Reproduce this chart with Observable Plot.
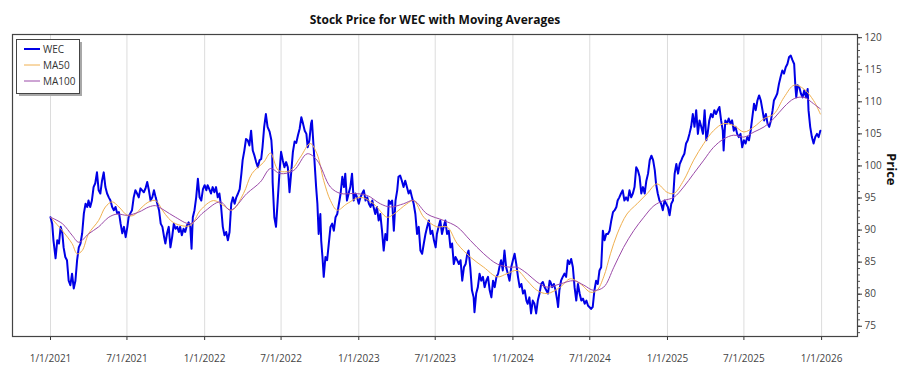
<!DOCTYPE html>
<html><head><meta charset="utf-8">
<script src="https://cdn.jsdelivr.net/npm/d3@7"></script>
<script src="https://cdn.jsdelivr.net/npm/@observablehq/plot@0.6"></script>
<style>body{margin:0;background:#fff;} #chart{width:900px;height:375px;}</style>
</head><body><div id="chart"></div>
<script>
const titleText = "Stock Price for WEC with Moving Averages";
const yLabel = "Price";
const seriesNames = ["WEC", "MA50", "MA100"];
const seriesColors = ["#0000e6", "#f0b050", "#9b4aa8"];
const xTicks = ["2021-01-01","2021-07-01","2022-01-01","2022-07-01","2023-01-01","2023-07-01","2024-01-01","2024-07-01","2025-01-01","2025-07-01","2026-01-01"];
const yTicks = [75, 80, 85, 90, 95, 100, 105, 110, 115, 120];

const wecDates = [
"2021-01-01","2021-01-05","2021-01-08","2021-01-13","2021-01-17","2021-01-21","2021-01-25","2021-01-29","2021-02-01","2021-02-05","2021-02-09","2021-02-13","2021-02-17","2021-02-21","2021-02-25","2021-03-01","2021-03-05","2021-03-09","2021-03-13","2021-03-17","2021-03-21","2021-03-25","2021-03-29","2021-04-01","2021-04-05","2021-04-09","2021-04-13","2021-04-17","2021-04-21","2021-04-25","2021-04-29","2021-05-03","2021-05-07","2021-05-11","2021-05-15","2021-05-19","2021-05-23","2021-05-27","2021-05-31","2021-06-04","2021-06-08","2021-06-12","2021-06-16","2021-06-20","2021-06-24","2021-06-28","2021-07-02","2021-07-05","2021-07-09","2021-07-13","2021-07-17","2021-07-21","2021-07-25","2021-07-29","2021-08-02","2021-08-06","2021-08-10","2021-08-14","2021-08-18","2021-08-22","2021-08-26","2021-08-30","2021-09-03","2021-09-07","2021-09-11","2021-09-15","2021-09-19","2021-09-23","2021-09-27","2021-09-30","2021-10-04","2021-10-08","2021-10-12","2021-10-16","2021-10-20","2021-10-24","2021-10-28","2021-11-01","2021-11-04","2021-11-08","2021-11-12","2021-11-16","2021-11-20","2021-11-24","2021-11-28","2021-12-01","2021-12-04","2021-12-08","2021-12-12","2021-12-16","2021-12-20","2021-12-24","2021-12-28",
"2022-01-01","2022-01-05","2022-01-08","2022-01-12","2022-01-16","2022-01-20","2022-01-24","2022-01-28","2022-02-01","2022-02-05","2022-02-09","2022-02-13","2022-02-17","2022-02-21","2022-02-25","2022-03-01","2022-03-05","2022-03-09","2022-03-13","2022-03-17","2022-03-21","2022-03-25","2022-03-29","2022-04-01","2022-04-05","2022-04-09","2022-04-13","2022-04-17","2022-04-21","2022-04-25","2022-04-29","2022-05-03","2022-05-07","2022-05-11","2022-05-15","2022-05-18","2022-05-22","2022-05-26","2022-05-30","2022-06-04","2022-06-08","2022-06-10","2022-06-11","2022-06-15","2022-06-19","2022-06-23","2022-06-27","2022-07-01","2022-07-05","2022-07-09","2022-07-13","2022-07-17","2022-07-21","2022-07-25","2022-07-29","2022-08-02","2022-08-06","2022-08-10","2022-08-14","2022-08-18","2022-08-22","2022-08-26","2022-08-30","2022-09-02","2022-09-06","2022-09-10","2022-09-12","2022-09-15","2022-09-18","2022-09-22","2022-09-25","2022-09-28","2022-10-02","2022-10-04","2022-10-07","2022-10-10","2022-10-14","2022-10-18","2022-10-22","2022-10-26","2022-10-30","2022-11-03","2022-11-07","2022-11-11","2022-11-15","2022-11-19","2022-11-23","2022-11-27","2022-11-30","2022-12-04","2022-12-08","2022-12-12","2022-12-16","2022-12-20","2022-12-24","2022-12-28",
"2023-01-01","2023-01-05","2023-01-09","2023-01-13","2023-01-17","2023-01-21","2023-01-25","2023-01-29","2023-02-02","2023-02-05","2023-02-09","2023-02-13","2023-02-17","2023-02-21","2023-02-25","2023-03-01","2023-03-05","2023-03-09","2023-03-13","2023-03-17","2023-03-21","2023-03-25","2023-03-29","2023-04-02","2023-04-05","2023-04-09","2023-04-13","2023-04-17","2023-04-21","2023-04-25","2023-04-29","2023-05-03","2023-05-07","2023-05-11","2023-05-15","2023-05-19","2023-05-23","2023-05-27","2023-05-31","2023-06-04","2023-06-08","2023-06-12","2023-06-16","2023-06-20","2023-06-24","2023-06-28","2023-07-02","2023-07-05","2023-07-09","2023-07-13","2023-07-17","2023-07-21","2023-07-25","2023-07-29","2023-08-02","2023-08-06","2023-08-10","2023-08-14","2023-08-18","2023-08-22","2023-08-26","2023-08-30","2023-09-03","2023-09-07","2023-09-11","2023-09-15","2023-09-18","2023-09-22","2023-09-26","2023-09-30","2023-10-02","2023-10-06","2023-10-10","2023-10-14","2023-10-18","2023-10-22","2023-10-26","2023-10-30","2023-11-03","2023-11-07","2023-11-11","2023-11-15","2023-11-19","2023-11-23","2023-11-27","2023-11-30","2023-12-04","2023-12-08","2023-12-12","2023-12-16","2023-12-20","2023-12-24","2023-12-28",
"2024-01-01","2024-01-05","2024-01-09","2024-01-13","2024-01-17","2024-01-21","2024-01-25","2024-01-29","2024-02-02","2024-02-05","2024-02-09","2024-02-13","2024-02-17","2024-02-21","2024-02-25","2024-02-29","2024-03-04","2024-03-08","2024-03-12","2024-03-16","2024-03-20","2024-03-24","2024-03-28","2024-03-30","2024-04-03","2024-04-07","2024-04-11","2024-04-15","2024-04-17","2024-04-20","2024-04-24","2024-04-28","2024-05-02","2024-05-06","2024-05-10","2024-05-14","2024-05-18","2024-05-22","2024-05-26","2024-05-30","2024-06-03","2024-06-07","2024-06-11","2024-06-15","2024-06-19","2024-06-23","2024-06-27","2024-06-30","2024-07-04","2024-07-08","2024-07-12","2024-07-16","2024-07-20","2024-07-24","2024-07-28","2024-08-01","2024-08-05","2024-08-09","2024-08-13","2024-08-17","2024-08-21","2024-08-25","2024-08-29","2024-09-02","2024-09-05","2024-09-09","2024-09-13","2024-09-17","2024-09-21","2024-09-25","2024-09-29","2024-10-03","2024-10-07","2024-10-11","2024-10-15","2024-10-19","2024-10-23","2024-10-27","2024-10-31","2024-11-04","2024-11-08","2024-11-12","2024-11-16","2024-11-20","2024-11-24","2024-11-28","2024-12-02","2024-12-05","2024-12-09","2024-12-13","2024-12-17","2024-12-21","2024-12-25","2024-12-29",
"2025-01-02","2025-01-06","2025-01-10","2025-01-14","2025-01-18","2025-01-22","2025-01-26","2025-01-30","2025-02-03","2025-02-06","2025-02-10","2025-02-14","2025-02-18","2025-02-22","2025-02-26","2025-03-02","2025-03-06","2025-03-10","2025-03-14","2025-03-18","2025-03-22","2025-03-26","2025-03-30","2025-04-03","2025-04-06","2025-04-10","2025-04-14","2025-04-18","2025-04-22","2025-04-26","2025-04-30","2025-05-04","2025-05-08","2025-05-12","2025-05-14","2025-05-18","2025-05-22","2025-05-26","2025-05-30","2025-06-03","2025-06-07","2025-06-11","2025-06-15","2025-06-19","2025-06-23","2025-06-27","2025-07-01","2025-07-05","2025-07-09","2025-07-13","2025-07-17","2025-07-21","2025-07-25","2025-07-29","2025-08-02","2025-08-06","2025-08-10","2025-08-14","2025-08-18","2025-08-22","2025-08-26","2025-08-30","2025-09-03","2025-09-07","2025-09-10","2025-09-14","2025-09-18","2025-09-22","2025-09-26","2025-09-30","2025-10-04","2025-10-08","2025-10-12","2025-10-16","2025-10-20","2025-10-24","2025-10-28","2025-10-31","2025-11-02","2025-11-05","2025-11-09","2025-11-13","2025-11-17","2025-11-21","2025-11-25","2025-11-29","2025-12-01","2025-12-05","2025-12-09","2025-12-13","2025-12-17","2025-12-21","2025-12-25","2025-12-29"
];
const wecPrice = [
92.0,91.0,88.4,85.6,88.4,87.9,90.5,89.5,87.3,85.8,85.3,82.1,81.4,83.2,80.9,82.1,85.3,87.3,87.9,89.5,92.6,94.1,93.6,94.6,93.6,94.6,96.7,97.3,99.0,96.2,95.7,97.7,99.0,96.7,95.7,95.1,94.6,93.6,93.1,93.6,92.6,92.8,91.0,89.5,90.5,88.9,90.5,92.0,92.6,93.1,95.1,96.2,95.7,95.1,96.5,96.2,95.9,96.5,97.5,96.2,94.6,95.1,96.2,95.1,94.1,93.1,91.0,90.5,88.9,87.9,89.5,90.5,87.3,88.9,91.0,90.2,90.5,89.7,90.5,89.2,90.2,89.7,90.7,91.2,90.5,87.1,92.0,93.1,95.1,98.0,95.1,94.6,96.4,
97.0,96.2,97.0,96.4,95.7,96.7,95.9,96.7,95.1,95.7,93.6,90.5,89.2,89.7,88.4,89.7,94.1,95.1,94.1,95.1,95.7,96.4,98.8,100.9,102.4,104.2,104.0,103.2,105.5,102.4,101.6,100.6,99.8,100.9,101.1,102.9,106.1,108.1,106.1,105.3,104.0,102.0,97.5,92.0,90.5,94.6,98.8,102.2,100.9,99.8,100.6,99.8,95.9,99.0,102.2,103.8,103.6,104.8,105.8,107.6,106.6,105.5,105.0,102.9,104.0,106.6,107.1,104.0,100.9,96.7,94.1,89.4,92.5,88.4,85.8,82.7,85.8,85.3,87.9,90.5,91.0,89.9,92.0,92.5,94.1,95.7,98.3,96.7,98.8,94.6,95.7,96.7,98.8,94.6,95.7,95.1,
94.1,95.1,95.7,96.2,94.6,95.1,94.1,93.6,94.6,93.6,92.5,93.6,91.5,92.5,89.9,86.8,89.4,88.4,94.6,94.1,94.6,89.9,94.6,96.2,98.3,98.5,97.7,96.7,97.7,96.7,95.7,96.2,95.1,94.1,92.5,89.4,90.5,86.8,86.3,87.9,89.4,90.5,91.5,89.4,89.9,88.4,87.3,89.4,90.5,91.5,89.4,90.5,91.5,89.4,89.9,87.3,87.9,84.7,85.8,85.3,84.7,85.3,82.1,84.2,84.7,86.3,86.8,84.2,80.6,79.5,77.2,80.1,81.1,83.2,82.1,82.7,81.1,82.1,82.7,80.6,79.5,82.1,81.1,82.7,83.2,84.2,85.3,83.7,86.8,84.2,83.2,82.1,84.2,
85.3,86.3,84.7,82.7,81.1,81.6,80.1,80.6,79.0,78.5,79.5,77.0,79.0,78.5,77.0,79.0,80.1,81.6,81.9,81.1,80.6,80.1,82.1,81.9,81.1,81.6,80.6,79.0,78.0,80.6,82.1,82.7,83.2,82.7,85.3,84.7,85.5,84.2,81.1,79.0,81.6,80.1,79.0,79.3,78.5,79.0,78.2,78.0,77.7,78.0,80.6,82.1,81.6,83.7,84.2,89.9,88.4,89.4,89.4,89.9,91.5,92.8,93.1,93.6,94.6,95.1,95.7,96.2,94.6,95.1,94.6,96.2,95.1,95.7,96.7,99.8,99.3,98.3,95.7,96.7,95.7,97.7,98.8,100.9,101.6,100.9,99.3,97.2,95.7,94.6,94.1,93.1,94.6,94.1,
93.6,92.3,94.1,94.6,98.8,100.3,98.8,100.3,100.9,101.4,101.9,103.5,104.0,105.0,106.1,108.1,106.1,108.7,105.0,107.1,106.1,105.0,108.7,104.0,105.0,107.1,108.1,107.6,108.7,108.1,108.7,109.2,107.1,105.5,102.4,107.1,106.6,107.4,106.6,107.1,105.5,106.1,105.0,104.5,105.0,102.9,104.0,103.5,104.5,104.0,105.5,107.6,109.7,108.7,110.2,111.0,110.2,108.7,107.1,108.1,106.6,106.1,107.1,108.7,110.2,110.7,111.3,112.8,113.9,114.9,114.4,115.4,115.9,117.0,117.2,116.5,115.9,112.3,110.7,112.6,112.3,111.3,110.7,111.8,110.7,112.0,108.7,106.1,104.5,103.5,104.5,105.0,104.5,105.5
];

const ma50Dates = ["2021-01-01","2021-01-29","2021-02-21","2021-03-05","2021-03-17","2021-04-01","2021-04-25","2021-05-11","2021-05-27","2021-06-12","2021-07-02","2021-07-17","2021-08-06","2021-08-22","2021-09-07","2021-09-23","2021-10-08","2021-10-24","2021-11-28","2021-12-22","2022-01-22","2022-02-15","2022-03-07","2022-04-03","2022-04-23","2022-05-21","2022-06-06","2022-06-25","2022-07-23","2022-08-16","2022-09-08","2022-09-24","2022-10-10","2022-10-26","2022-11-11","2022-12-04","2023-01-05","2023-02-05","2023-03-09","2023-03-25","2023-04-25","2023-05-11","2023-06-04","2023-07-05","2023-07-29","2023-08-22","2023-09-22","2023-10-24","2023-11-25","2023-12-18","2024-01-11","2024-02-04","2024-02-27","2024-03-22","2024-04-22","2024-05-16","2024-06-09","2024-07-03","2024-07-18","2024-08-03","2024-08-19","2024-09-04","2024-09-27","2024-10-21","2024-11-14","2024-12-07","2024-12-31","2025-01-16","2025-02-08","2025-03-04","2025-03-28","2025-04-20","2025-05-14","2025-06-07","2025-07-01","2025-07-25","2025-08-18","2025-09-10","2025-10-04","2025-10-28","2025-11-20","2025-12-13","2025-12-29"];
const ma50Values = [92.0,89.9,87.9,86.3,86.8,89.4,91.5,93.6,94.4,93.6,92.3,92.3,93.6,94.4,94.6,93.1,91.8,91.0,90.7,93.1,94.6,93.8,93.1,95.7,98.8,100.6,102.0,99.3,99.3,101.4,103.5,101.9,97.7,94.6,93.1,94.1,95.1,94.1,92.0,92.5,94.1,94.6,92.0,90.5,90.5,87.9,85.8,84.2,82.7,83.2,83.7,82.1,80.6,80.1,81.1,82.4,81.6,80.3,80.6,82.7,86.3,89.4,92.5,94.1,95.7,97.2,95.9,95.7,97.7,100.9,103.5,105.5,106.6,106.3,105.3,106.1,107.4,108.1,110.7,112.6,112.0,110.2,108.1];

const ma100Dates = ["2021-01-01","2021-01-29","2021-02-21","2021-03-09","2021-04-01","2021-04-25","2021-05-19","2021-06-08","2021-07-02","2021-07-29","2021-08-22","2021-09-07","2021-09-27","2021-10-24","2021-11-28","2021-12-30","2022-02-07","2022-03-03","2022-04-11","2022-05-13","2022-06-06","2022-06-29","2022-07-31","2022-09-01","2022-09-24","2022-10-26","2022-11-19","2022-12-20","2023-01-21","2023-02-21","2023-03-17","2023-04-17","2023-05-11","2023-06-12","2023-07-21","2023-08-22","2023-09-22","2023-10-24","2023-11-25","2023-12-26","2024-01-11","2024-02-04","2024-02-27","2024-03-22","2024-04-22","2024-05-24","2024-06-17","2024-07-10","2024-08-03","2024-08-27","2024-09-19","2024-10-13","2024-11-06","2024-11-30","2024-12-23","2025-01-16","2025-02-08","2025-03-04","2025-03-28","2025-04-20","2025-05-14","2025-06-07","2025-07-01","2025-07-25","2025-08-18","2025-09-10","2025-10-04","2025-10-28","2025-11-20","2025-12-13","2025-12-29"];
const ma100Values = [92.0,91.0,89.2,88.1,89.4,90.5,92.0,92.5,92.3,92.8,93.6,93.8,93.1,92.0,91.0,92.8,94.4,93.1,95.7,97.5,99.6,98.8,99.3,101.9,100.9,96.7,95.7,95.7,95.4,94.1,93.6,94.1,94.6,92.5,91.5,90.5,88.4,86.3,84.7,84.2,84.2,83.2,81.9,81.1,81.6,82.1,81.4,80.6,81.1,84.2,87.3,89.9,92.0,93.8,94.6,95.1,96.7,98.8,100.9,102.9,104.2,104.8,104.5,105.3,106.1,107.4,109.2,110.5,110.7,109.7,108.9];

const parse = d3.utcParse("%Y-%m-%d");
const wec = wecDates.map((d, i) => ({date: parse(d), value: wecPrice[i]}));
const ma50 = ma50Dates.map((d, i) => ({date: parse(d), value: ma50Values[i]}));
const ma100 = ma100Dates.map((d, i) => ({date: parse(d), value: ma100Values[i]}));
const xTickDates = xTicks.map(parse);
const fmt = d3.utcFormat("%-m/%-d/%Y");
const minorY = d3.range(74, 121);

const plot = Plot.plot({
  width: 900, height: 375,
  marginTop: 34, marginBottom: 39, marginLeft: 12, marginRight: 43,
  style: {fontFamily: "'Open Sans', sans-serif", fontSize: "10px", color: "#444", background: "white"},
  x: {type: "utc", domain: [parse("2020-10-03"), parse("2026-03-27")]},
  y: {domain: [73.4, 120.5]},
  marks: [
    Plot.gridX(xTickDates, {stroke: "#dcdcdc", strokeOpacity: 1}),
    Plot.axisX(xTickDates, {tickSize: 4, tickPadding: 14, tickFormat: fmt, label: null, stroke: "#333"}),
    Plot.axisY(minorY, {anchor: "right", tickSize: 2, tickFormat: () => "", label: null, stroke: "#555"}),
    Plot.axisY(yTicks, {anchor: "right", tickSize: 4, tickPadding: 3, label: null, stroke: "#333"}),
    Plot.line(wec, {x: "date", y: "value", stroke: seriesColors[0], strokeWidth: 2}),
    Plot.line(ma50, {x: "date", y: "value", stroke: seriesColors[1], strokeWidth: 1, curve: "catmull-rom"}),
    Plot.line(ma100, {x: "date", y: "value", stroke: seriesColors[2], strokeWidth: 1, curve: "catmull-rom"}),
    Plot.frame({stroke: "#444", strokeWidth: 1.2}),
    Plot.text([yLabel], {frameAnchor: "right", dx: 34, rotate: 90, fontWeight: "bold", fontSize: 13, fill: "#111"}),
    Plot.text([titleText], {frameAnchor: "top", dy: -19, fontWeight: "bold", fontSize: 12, fill: "#111"})
  ]
});
document.getElementById("chart").appendChild(plot);

// legend
const svg = d3.select(plot);
const lg = svg.append("g").attr("font-family", "'Open Sans', sans-serif").attr("font-size", 10).attr("text-anchor", "start");
lg.append("rect").attr("x", 19).attr("y", 42).attr("width", 63).attr("height", 54).attr("fill", "#a8a8a8");
lg.append("rect").attr("x", 16.5).attr("y", 39.5).attr("width", 63).attr("height", 54).attr("fill", "white").attr("stroke", "#444");
seriesNames.forEach((name, i) => {
  const y = 49 + i * 16;
  lg.append("line").attr("x1", 24).attr("x2", 40).attr("y1", y).attr("y2", y)
    .attr("stroke", seriesColors[i]).attr("stroke-width", i === 0 ? 2 : 1);
  lg.append("text").attr("x", 43).attr("y", y).attr("dy", "0.35em").attr("text-anchor", "start").attr("fill", "#333").text(name);
});
</script>
</body></html>
